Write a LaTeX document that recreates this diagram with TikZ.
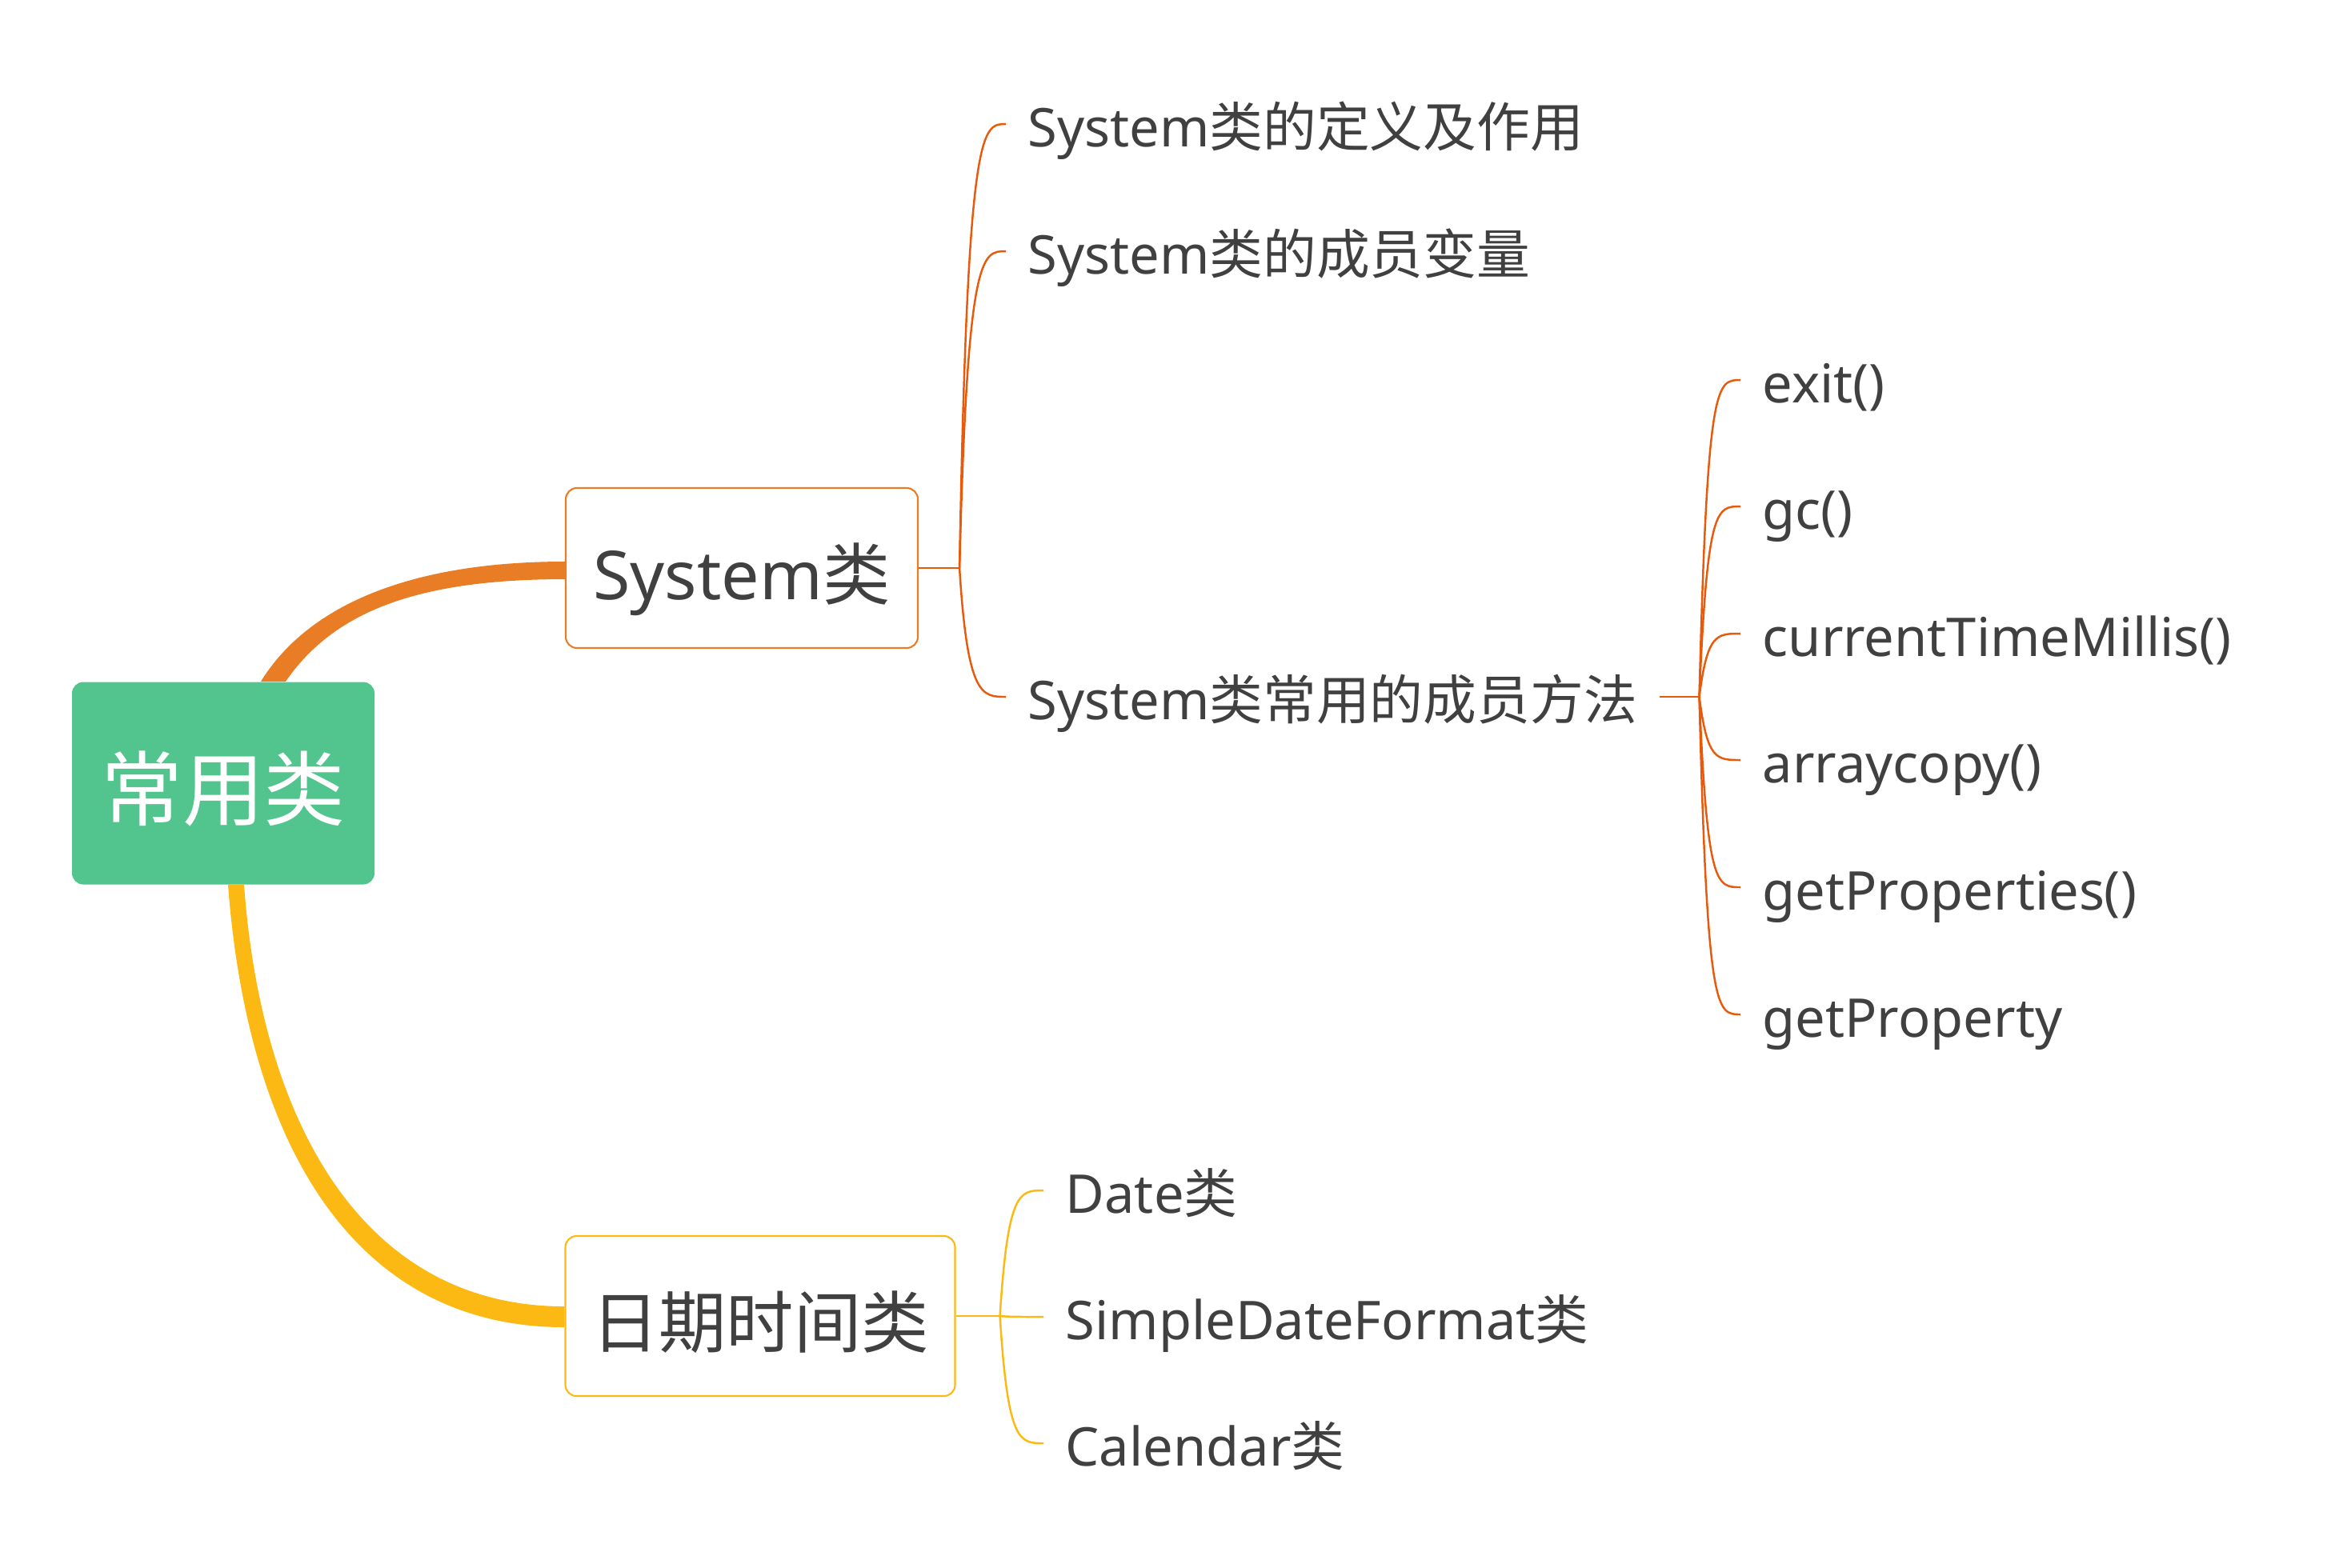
\documentclass[tikz,border=0pt]{standalone}
\usepackage{fontspec}
\setmainfont{Noto Sans}
\newfontfamily\zh{Noto Sans CJK SC}
\usetikzlibrary{calc,positioning}
\definecolor{rootgreen}{HTML}{52C48D}
\definecolor{sysorange}{HTML}{E87D25}
\definecolor{twigred}{HTML}{E8590C}
\definecolor{dateyellow}{HTML}{FDB913}
\definecolor{inkgray}{HTML}{404040}

\begin{document}
\begin{tikzpicture}[font=\fontsize{19}{23}\selectfont,text=inkgray]
\tikzset{rootbox/.style={fill=rootgreen,rounded corners=0.14cm,text=white,minimum width=3.78cm,minimum height=2.53cm,text height=28pt,text depth=2pt,font=\fontsize{29}{35}\selectfont\zh},
  topicbox/.style={draw,fill=white,rounded corners=0.14cm,line width=0.6pt,minimum height=2cm,inner xsep=0.2cm,text height=24pt,text depth=1.4pt,font=\fontsize{24}{29}\selectfont},
  leaf/.style={anchor=west,inner xsep=0.27cm,inner ysep=0pt,text height=18pt,text depth=1.6pt},
  twig/.style={line width=0.7pt}}
\useasboundingbox (0,0) rectangle (29.08,-19.59);
\node[rootbox] (root) at (2.79,-9.79) {常用类};
\node[topicbox,draw=sysorange,minimum width=4.40cm] (sys) at (9.27,-7.10) {System{\zh 类}};
\node[topicbox,draw=dateyellow,minimum width=4.87cm] (date) at (9.50,-16.45) {{\zh 日期时间类}};
% thick branches from the root
\fill[sysorange] ($(root.north)+(0.47,0)$) .. controls +(0.6,0.97) and +(-1.9,0) .. ($(sys.west)+(0,0.08)$) -- ($(sys.west)+(0,-0.14)$) .. controls +(-1.85,0) and +(0.6,0.87) .. ($(root.north)+(0.78,0)$) -- cycle;
\fill[dateyellow] ($(root.south)+(0.06,0)$) .. controls +(0.25,-3.3) and +(-2.6,0) .. ($(date.west)+(0,-0.14)$) -- ($(date.west)+(0,0.12)$) .. controls +(-2.5,0) and +(0.22,-3.0) .. ($(root.south)+(0.26,0)$) -- cycle;
% System children
\node[leaf] (def) at (12.57,-1.55) {System{\zh 类的定义及作用}};
\node[leaf] (var) at (12.57,-3.14) {System{\zh 类的成员变量}};
\node[leaf] (meth) at (12.57,-8.71) {System{\zh 类常用的成员方法}};
\coordinate (sysj) at ($(sys.east)+(0.51,0)$);
\draw[twig,twigred] (sys.east) -- (sysj);
\foreach \n in {def,var,meth}{\draw[twig,twigred] (sysj) .. controls ($(sysj |- \n.west)+(0.1,0)$) and ($(\n.west)+(-0.3,0)$) .. (\n.west);}
% methods
\coordinate (methj) at ($(meth.east)+(0.5,0)$);
\draw[twig,twigred] (meth.east) -- (methj);
\foreach \n/\txt/\y in {exit/exit()/-4.75,gc/gc()/-6.33,ctm/currentTimeMillis()/-7.92,acopy/arraycopy()/-9.50,props/getProperties()/-11.09,prop/getProperty/-12.68}{
  \node[leaf] (\n) at (21.75,\y) {\txt};
  \draw[twig,twigred] (methj) .. controls ($(methj |- \n.west)+(0.1,0)$) and ($(\n.west)+(-0.3,0)$) .. (\n.west);
}
% date and time classes
\coordinate (datej) at ($(date.east)+(0.55,0)$);
\draw[twig,dateyellow] (date.east) -- (datej);
\foreach \n/\txt/\y in {dt/Date/-14.88,sdf/SimpleDateFormat/-16.46,cal/Calendar/-18.04}{
  \node[leaf] (\n) at (13.04,\y) {\txt{\zh 类}};
  \draw[twig,dateyellow] (datej) .. controls ($(datej |- \n.west)+(0.1,0)$) and ($(\n.west)+(-0.3,0)$) .. (\n.west);
}
\end{tikzpicture}
\end{document}
